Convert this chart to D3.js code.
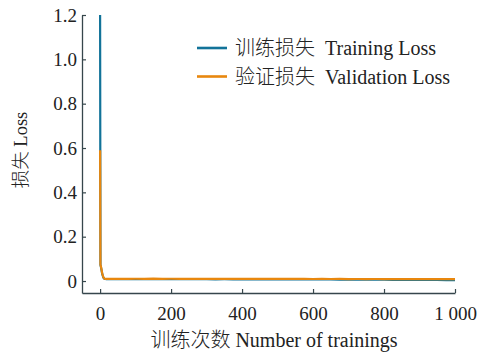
<!DOCTYPE html>
<html>
<head>
<meta charset="utf-8">
<script src="https://cdn.jsdelivr.net/npm/d3@7"></script>
<style>
  html, body { margin: 0; padding: 0; background: #fff; }
  svg { display: block; }
  text { font-family: "Liberation Serif", "Times New Roman", "Noto Sans CJK SC", serif; fill: #222; }
  .title { font-weight: 300; }
</style>
</head>
<body>
<svg id="chart" width="478" height="353"></svg>
<script>
// Training epochs at which the losses were recorded
const epochs = [0, 1, 2, 4, 6, 9, 12, 16, 20, 30, 45, 60, 80, 100, 125, 150, 175, 200, 225, 250, 275, 300, 325, 350, 375, 400, 425, 450, 475, 500, 525, 550, 575, 600, 625, 650, 675, 700, 725, 750, 775, 800, 825, 850, 875, 900, 925, 950, 975, 1000];

// Loss values per recorded epoch
const trainLoss = [1.2, 0.072, 0.066, 0.05, 0.032, 0.016, 0.010, 0.009, 0.009, 0.0085, 0.009, 0.0088, 0.0086, 0.0087, 0.0084, 0.0086, 0.0083, 0.0084, 0.0082, 0.0083, 0.0080, 0.0081, 0.0079, 0.0080, 0.0078, 0.0077, 0.0078, 0.0075, 0.0076, 0.0074, 0.0073, 0.0072, 0.0071, 0.0070, 0.0069, 0.0068, 0.0066, 0.0065, 0.0063, 0.0062, 0.0060, 0.0058, 0.0056, 0.0054, 0.0052, 0.0050, 0.0048, 0.0046, 0.0044, 0.0042];
const valLoss = [0.59, 0.075, 0.068, 0.052, 0.034, 0.018, 0.011, 0.010, 0.0095, 0.0098, 0.0102, 0.0099, 0.0101, 0.0103, 0.0098, 0.0104, 0.0100, 0.0102, 0.0099, 0.0101, 0.0097, 0.0100, 0.0098, 0.0099, 0.0096, 0.0098, 0.0097, 0.0095, 0.0097, 0.0094, 0.0096, 0.0093, 0.0095, 0.0092, 0.0094, 0.0091, 0.0093, 0.0090, 0.0092, 0.0089, 0.0091, 0.0088, 0.0090, 0.0087, 0.0089, 0.0086, 0.0088, 0.0087, 0.0088, 0.0089];

// Axis ticks and labels
const xTicks = [0, 200, 400, 600, 800, 1000];
const xTickLabels = ["0", "200", "400", "600", "800", "1 000"];
const yTicks = [0, 0.2, 0.4, 0.6, 0.8, 1.0, 1.2];
const yTickLabels = ["0", "0.2", "0.4", "0.6", "0.8", "1.0", "1.2"];

const seriesNames = ["训练损失  Training Loss", "验证损失  Validation Loss"];
const seriesColors = ["#127399", "#e8870e"];

const svg = d3.select("#chart");
const axisColor = "#36464c";

const x = d3.scaleLinear().domain([-51, 1000]).range([82, 455]);
const y = d3.scaleLinear().domain([-0.054, 1.2]).range([293, 15]);

// X axis (ticks pointing into the plot)
const gx = svg.append("g").attr("transform", `translate(0,${y(-0.054)})`)
  .call(d3.axisBottom(x).tickValues(xTicks)
    .tickFormat((d, i) => xTickLabels[i]).tickSizeInner(-4).tickSizeOuter(0).tickPadding(9));
gx.select(".domain").attr("stroke", axisColor).attr("stroke-width", 1.3);
gx.selectAll(".tick line").attr("stroke", axisColor).attr("stroke-width", 1.2);
gx.selectAll(".tick text").attr("font-size", 19).attr("font-family", "Liberation Serif").attr("fill", "#222").attr("dy", "0.95em");

// Y axis (ticks pointing into the plot)
const gy = svg.append("g").attr("transform", `translate(${x(-51)},0)`)
  .call(d3.axisLeft(y).tickValues(yTicks)
    .tickFormat((d, i) => yTickLabels[i]).tickSizeInner(-4).tickSizeOuter(0).tickPadding(5));
gy.select(".domain").attr("stroke", axisColor).attr("stroke-width", 1.3);
gy.selectAll(".tick line").attr("stroke", axisColor).attr("stroke-width", 1.2);
gy.selectAll(".tick text").attr("font-size", 19).attr("font-family", "Liberation Serif").attr("fill", "#222");

// Loss curves
const line = d3.line().x((d, i) => x(epochs[i])).y(d => y(d));
svg.append("path").datum(trainLoss)
  .attr("fill", "none").attr("stroke", seriesColors[0]).attr("stroke-width", 2.2)
  .attr("stroke-linejoin", "round").attr("d", line);
svg.append("path").datum(valLoss)
  .attr("fill", "none").attr("stroke", seriesColors[1]).attr("stroke-width", 2.2)
  .attr("stroke-linejoin", "round").attr("d", line);

// Legend
const legend = svg.append("g");
seriesNames.forEach((name, i) => {
  const ly = 48 + i * 28.5;
  legend.append("line").attr("x1", 197).attr("x2", 227).attr("y1", ly).attr("y2", ly)
    .attr("stroke", seriesColors[i]).attr("stroke-width", 2.6);
  legend.append("text").attr("class", "title").attr("x", 235).attr("y", ly + 7)
    .attr("font-size", 20).attr("xml:space", "preserve")
    .style("white-space", "pre").text(name);
});

// Axis titles
svg.append("text").attr("class", "title").attr("x", 274).attr("y", 347).attr("text-anchor", "middle")
  .attr("font-size", 20).text("训练次数 Number of trainings");
svg.append("text").attr("class", "title").attr("transform", "translate(27,150) rotate(-90)")
  .attr("text-anchor", "middle").attr("font-size", 18.5).text("损失 Loss");
</script>
</body>
</html>
